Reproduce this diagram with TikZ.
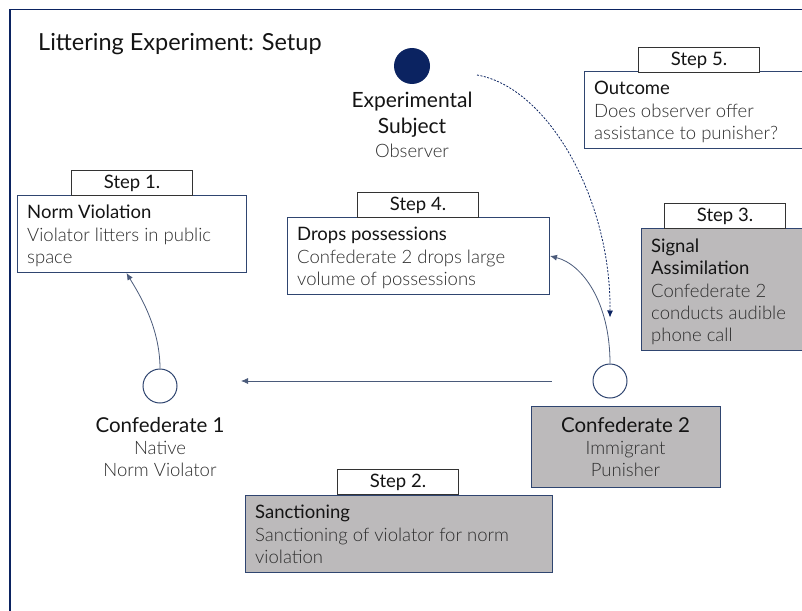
\documentclass[tikz,border=0pt]{standalone}
\usepackage{fontspec}
\setmainfont{Lato}
\newfontfamily\lightfont{Lato Light}
\usetikzlibrary{arrows.meta}

\definecolor{navy}{HTML}{0B2361}
\definecolor{edge}{HTML}{2F4570}
\definecolor{stepline}{HTML}{333333}
\definecolor{panel}{HTML}{BCBABB}
\definecolor{ink}{HTML}{141414}
\definecolor{body}{HTML}{2E2E2E}
\definecolor{arrowc}{HTML}{4A5A7A}

\tikzset{
  frameline/.style={draw=navy, line width=1.3pt},
  card/.style={draw=edge, line width=1pt, fill=white, anchor=north west, inner sep=0},
  greycard/.style={card, fill=panel},
  stepbox/.style={draw=stepline, line width=1pt, fill=white, anchor=north west,
    minimum width=121pt, minimum height=25pt, inner sep=0, text=ink,
    font=\fontsize{18.5}{20}\selectfont},
  cardtext/.style={anchor=north west, align=left, inner sep=0, text=body,
    font=\lightfont\fontsize{18.5}{22.4}\selectfont},
  person/.style={circle, draw=edge, line width=1pt, fill=white,
    minimum size=34pt, inner sep=0},
  subjectdot/.style={circle, fill=navy, minimum size=36pt, inner sep=0},
  personname/.style={align=center, inner sep=0, text=ink, font=\fontsize{20.5}{26}\selectfont},
  personrole/.style={align=center, inner sep=0, text=body,
    font=\lightfont\fontsize{18.5}{22.4}\selectfont},
  flow/.style={draw=arrowc, line width=0.8pt, -{Latex[length=7pt,width=6pt]}},
  watch/.style={draw=navy, line width=0.8pt, dash pattern=on 2pt off 1.5pt,
    -{Latex[length=7pt,width=6pt]}},
}

\begin{document}
\begin{tikzpicture}[x=1pt, y=-1pt]
\clip (0,0) rectangle (802,610);

% outer frame
\draw[frameline] (10,620) -- (10,9.5) -- (812,9.5);

% title
\node[anchor=base west, inner sep=0, text=ink, font=\fontsize{23.5}{28}\selectfont]
  (title) at (38,51) {Littering Experiment: Setup};

% experimental subject
\node[subjectdot] (subj) at (412,66) {};
\node[personname, anchor=north, font=\fontsize{21}{26}\selectfont] (subjname) at (412,92) {Experimental\\Subject};
\node[personrole, anchor=base] (subjrole) at (412,157) {Observer};

% step 5: outcome
\node[card, minimum width=226pt, minimum height=77pt] (out) at (584,71) {};
\node[stepbox] (s5) at (638,47) {Step 5.};
\node[cardtext] (outtext) at ([shift={(10pt,-10pt)}]out.north west)
  {{\normalfont\color{ink}Outcome}\\Does observer offer\\assistance to punisher?};

% step 1: norm violation
\node[card, minimum width=229pt, minimum height=77pt] (nv) at (17,195) {};
\node[stepbox] (s1) at (71,170) {Step 1.};
\node[cardtext] (nvtext) at ([shift={(10pt,-10pt)}]nv.north west)
  {{\normalfont\color{ink}Norm Violation}\\Violator litters in public\\space};

% step 4: drops possessions
\node[card, minimum width=262pt, minimum height=77pt] (dp) at (287,217) {};
\node[stepbox] (s4) at (357,192) {Step 4.};
\node[cardtext] (dptext) at ([shift={(10pt,-10pt)}]dp.north west)
  {{\normalfont\color{ink}Drops possessions}\\Confederate 2 drops large\\volume of possessions};

% step 3: signal assimilation
\node[greycard, minimum width=169pt, minimum height=122pt] (sa) at (641,228) {};
\node[stepbox] (s3) at (664,203) {Step 3.};
\node[cardtext] (satext) at ([shift={(10pt,-10.5pt)}]sa.north west)
  {{\normalfont\color{ink}Signal}\\{\normalfont\color{ink}Assimilation}\\Confederate 2\\conducts audible\\phone call};

% step 2: sanctioning
\node[greycard, minimum width=307pt, minimum height=77pt] (sn) at (245,495) {};
\node[stepbox] (s2) at (337,469) {Step 2.};
\node[cardtext] (sntext) at ([shift={(10pt,-10pt)}]sn.north west)
  {{\normalfont\color{ink}Sanctioning}\\Sanctioning of violator for norm\\violation};

% confederate 1
\node[person] (c1) at (160,386) {};
\node[personname, anchor=base] (c1name) at (160,432) {Confederate 1};
\node[personrole, anchor=north] (c1role) at (160,441) {Native\\Norm Violator};

% confederate 2
\node[greycard, minimum width=189pt, minimum height=81pt] (c2box) at (531,406) {};
\node[person] (c2) at (610,381) {};
\node[personname, anchor=base] (c2name) at (625.5,432) {Confederate 2};
\node[personrole, anchor=north] (c2role) at (625.5,441) {Immigrant\\Punisher};

% connectors
\coordinate (htip) at (241,381);
\draw[flow] ([xshift=-41pt]c2.west) -- (htip);
\draw[flow] (c1.north) .. controls +(0,-42) and +(12,20) .. ([xshift=-5.5pt]nv.south);
\draw[flow] (c2.north) .. controls +(0,-62) and +(32,8) .. (dp.east);
\draw[watch] ([shift={(65pt,-9pt)}]subj.center) .. controls +(70,12) and +(1,-120) .. ([yshift=46pt]c2.north);
\end{tikzpicture}
\end{document}
